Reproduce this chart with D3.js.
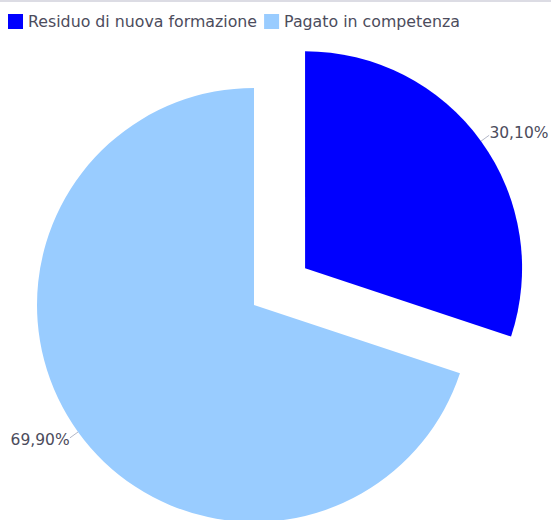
<!DOCTYPE html>
<html>
<head>
<meta charset="utf-8">
<script src="https://cdn.jsdelivr.net/npm/d3@7"></script>
<style>
    body { margin: 0; background: #fff; }
    svg { display: block; font-family: "DejaVu Sans", sans-serif; }
</style>
</head>
<body>
<div id="body"></div>
<script>
// chart data
var categories = ['Residuo di nuova formazione', 'Pagato in competenza'];
var values = [30.1, 69.9];
var colors = ['#0000FF', '#99CCFF'];
var explode = [63, 0];

var width = 551, height = 520;
var cx = 254, cy = 305, radius = 217;
var fontSize = 15.5;
var legendFontSize = 15.8;
var textColor = '#4c4c5c';

var svg = d3.select('#body')
    .append('svg')
    .attr('width', width)
    .attr('height', height);

// thin border at the top
svg.append('rect')
    .attr('x', 0).attr('y', 0)
    .attr('width', width).attr('height', 2)
    .attr('fill', '#dcdce4');

// legend
var legend = svg.append('g').attr('class', 'legend');
var lx = 8;
categories.forEach((c, i) => {
    legend.append('rect')
        .attr('x', lx).attr('y', 14)
        .attr('width', 15).attr('height', 15)
        .attr('fill', colors[i]);
    var t = legend.append('text')
        .attr('x', lx + 20).attr('y', 27)
        .attr('font-size', legendFontSize)
        .attr('fill', textColor)
        .text(c);
    lx += 20 + t.node().getComputedTextLength() + 7;
});

// pie
var data = categories.map((c, i) => ({name: c, value: values[i], color: colors[i], explode: explode[i]}));
var pie = d3.pie().sort(null).value(d => d.value);
var arc = d3.arc().innerRadius(0).outerRadius(radius);
var arcs = pie(data);

var body = svg.append('g')
    .attr('transform', `translate(${cx},${cy})`);

var fmt = v => v.toFixed(2).replace('.', ',') + '%';

arcs.forEach(a => {
    var mid = (a.startAngle + a.endAngle) / 2;
    var dx = Math.sin(mid), dy = -Math.cos(mid);
    var ox = dx * a.data.explode, oy = dy * a.data.explode;
    var g = body.append('g').attr('transform', `translate(${ox},${oy})`);
    g.append('path')
        .attr('d', arc(a))
        .attr('fill', a.data.color);

    // leader line and label
    g.append('line')
        .attr('x1', dx * radius).attr('y1', dy * radius)
        .attr('x2', dx * (radius + 10)).attr('y2', dy * (radius + 10))
        .attr('stroke', '#b4b8c8')
        .attr('stroke-width', 1);
    var right = dx >= 0;
    g.append('text')
        .attr('x', dx * (radius + 14) + (right ? -3 : 3))
        .attr('y', dy * (radius + 14) - 1)
        .attr('dy', '0.36em')
        .attr('text-anchor', right ? 'start' : 'end')
        .attr('font-size', fontSize)
        .attr('fill', textColor)
        .text(fmt(a.data.value));
});
</script>
</body>
</html>
